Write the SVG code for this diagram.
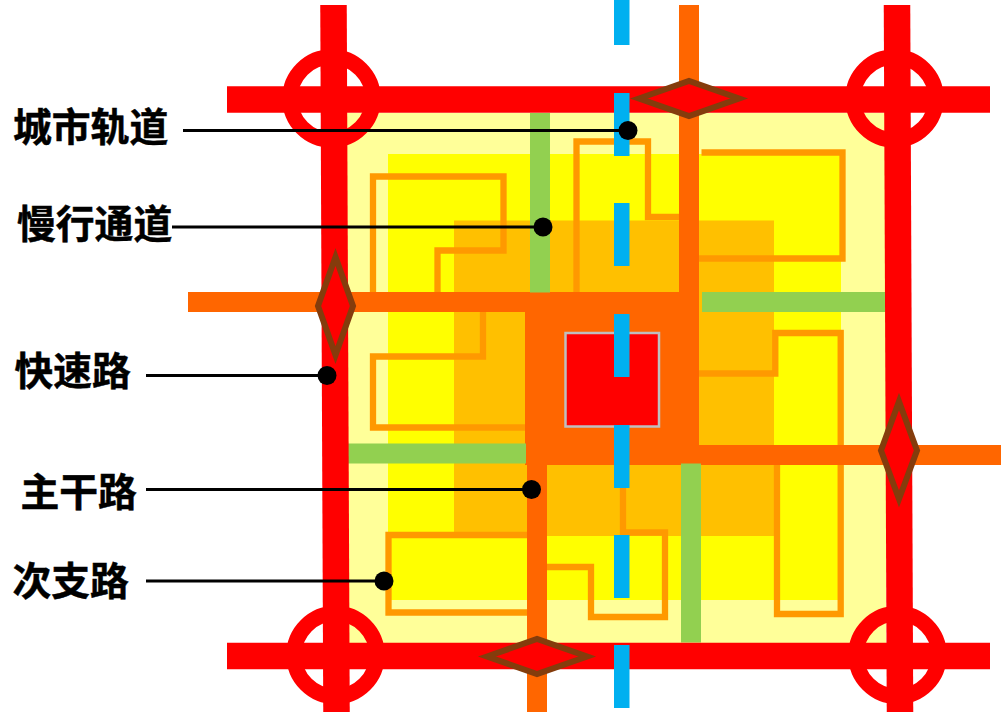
<svg xmlns="http://www.w3.org/2000/svg" width="1007" height="712" viewBox="0 0 1007 712">
<style>
.thin{fill:none;stroke:#FF9900;stroke-width:6.3}
.fast{stroke:#FF0000;stroke-width:26.5;fill:none}
.ring{fill:none;stroke:#FF0000;stroke-width:15.5}
.main{fill:#FF6600}
.slow{fill:#92D050}
.rail{fill:#00B0F0}
.dia{fill:#FF0000;stroke:#843C0C;stroke-width:6}
.lead{stroke:#000;stroke-width:3;fill:none}
.dot{fill:#000}
.lab{font-family:"Noto Sans CJK SC","Liberation Sans",sans-serif;font-weight:700;font-size:38.800px;fill:#000;stroke:#000;stroke-width:.5}
</style>
<rect width="1007" height="712" fill="#FFFFFF"/>
<g id="zones">
<rect x="347" y="113" width="539" height="530" fill="#FFFF99"/>
<rect x="388" y="154" width="453" height="446" fill="#FFFF00"/>
<rect x="454" y="220.5" width="320" height="315.5" fill="#FFC000"/>
</g>
<g id="branch-roads">
<path class="thin" d="M373 292V176.500H503.500V250.500H437.500V292"/>
<path class="thin" d="M576.500 292V141.500H648V217H680"/>
<path class="thin" d="M701.500 152.500H842.500V258.500H699"/>
<path class="thin" d="M699 373.500H775.300V333H840.700V614H777V465"/>
<path class="thin" d="M483 312V356.500H373V427.500H527"/>
<path class="thin" d="M527 535H388.500V612.500H527"/>
<path class="thin" d="M547 567H591V617H665V532.500H623V465"/>
</g>
<g id="main-roads">
<rect class="main" x="188" y="292" width="511" height="20"/>
<rect class="main" x="525" y="292" width="174" height="173"/>
<rect class="main" x="527" y="445" width="474" height="20"/>
<rect class="main" x="679" y="5" width="20" height="290"/>
<rect class="main" x="527" y="460" width="20" height="252"/>
</g>
<g id="slow-ways">
<rect class="slow" x="530" y="113" width="20" height="179.500"/>
<rect class="slow" x="702" y="292" width="184" height="20"/>
<rect class="slow" x="348" y="443.500" width="178" height="20"/>
<rect class="slow" x="681" y="463.500" width="20" height="179"/>
</g>
<g id="center">
<rect x="565.500" y="333" width="93.500" height="93.500" fill="#FF0000" stroke="#BFBFBF" stroke-width="2.500"/>
</g>
<g id="expressways">
<path class="fast" d="M227 99.500H990"/>
<path class="fast" d="M227 656H990"/>
<path class="fast" d="M333.500 5L336.500 712"/>
<path class="fast" d="M897 5L900 712"/>
<circle class="ring" cx="331.500" cy="98.500" r="41.500"/>
<circle class="ring" cx="894.500" cy="98.500" r="41.500"/>
<circle class="ring" cx="335.500" cy="655" r="41.500"/>
<circle class="ring" cx="897.500" cy="655" r="41.500"/>
</g>
<g id="rail">
<rect class="rail" x="614" y="0" width="15.500" height="45"/>
<rect class="rail" x="614" y="93" width="15.500" height="63"/>
<rect class="rail" x="614" y="203" width="15.500" height="63"/>
<rect class="rail" x="614" y="314" width="15.500" height="63"/>
<rect class="rail" x="614" y="425" width="15.500" height="63"/>
<rect class="rail" x="614" y="535" width="15.500" height="63"/>
<rect class="rail" x="614" y="645" width="15.500" height="63"/>
</g>
<g id="interchanges">
<polygon class="dia" points="639,98.500 689,81 739,98.500 689,116"/>
<polygon class="dia" points="335.500,257 353,306 335.500,355 318,306"/>
<polygon class="dia" points="899,401.500 917,450.500 899,499 881,450.500"/>
<polygon class="dia" points="487,656.500 537,639 587,656.500 537,674"/>
</g>
<g id="connectors">
<path class="lead" d="M183 130.500H628"/>
<path class="lead" d="M172 227H543"/>
<path class="lead" d="M146 375.500H327"/>
<path class="lead" d="M146 489.500H531.500"/>
<path class="lead" d="M146 581H384"/>
</g>
<g id="label-rail"><text class="lab" x="13" y="140.500">城市轨道</text><circle class="dot" cx="628" cy="130.500" r="9.500"/></g>
<g id="label-slow"><text class="lab" x="17" y="237.500">慢行通道</text><circle class="dot" cx="543" cy="227" r="9.500"/></g>
<g id="label-fast"><text class="lab" x="14.500" y="384.500">快速路</text><circle class="dot" cx="327" cy="375.500" r="9.500"/></g>
<g id="label-main"><text class="lab" x="20.500" y="505.500">主干路</text><circle class="dot" cx="531.500" cy="489.500" r="9.500"/></g>
<g id="label-branch"><text class="lab" x="12.500" y="594.500">次支路</text><circle class="dot" cx="384" cy="581" r="9.500"/></g>
</svg>
